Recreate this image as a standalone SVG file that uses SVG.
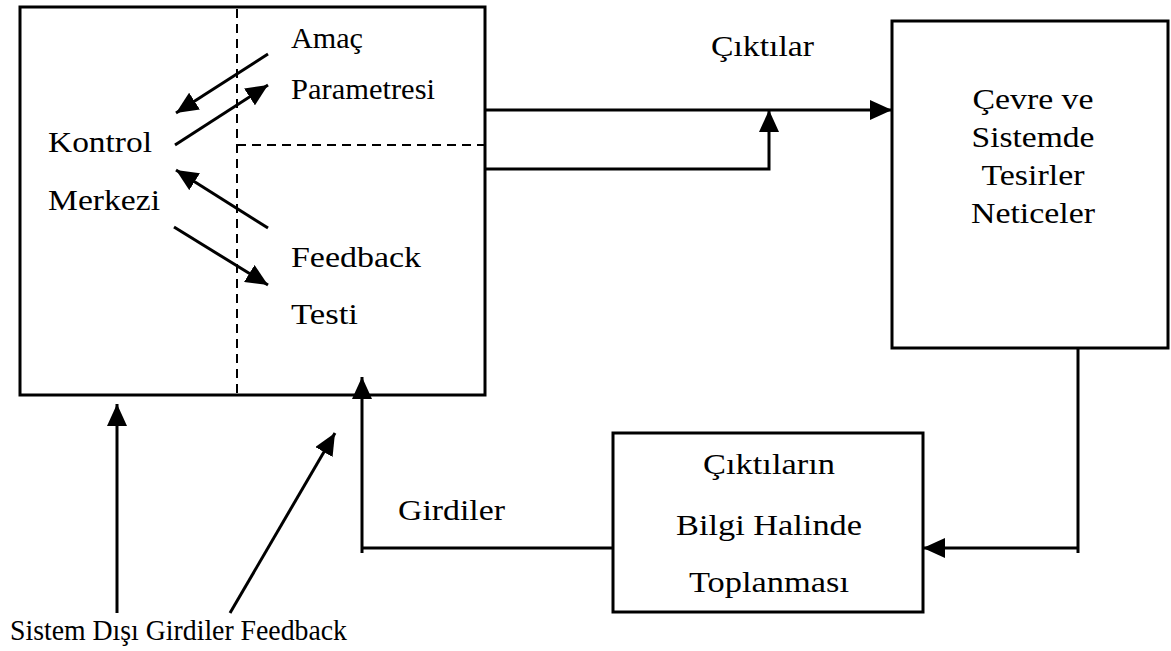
<svg xmlns="http://www.w3.org/2000/svg" width="1171" height="651" viewBox="0 0 1171 651" font-family="Liberation Serif, Times New Roman, serif">
<style>
text{font-family:'Liberation Serif','Times New Roman',Times,serif;fill:#000;font-size:30px}
.box{fill:#fff;stroke:#000;stroke-width:3}
.dash{fill:none;stroke:#000;stroke-width:2;stroke-dasharray:9 6}
.ln{fill:none;stroke:#000;stroke-width:3}
.ar{fill:none;stroke:#000;stroke-width:3;marker-end:url(#ah)}
.mid{text-anchor:middle}
</style>
<defs>
<marker id="ah" markerUnits="userSpaceOnUse" markerWidth="22" markerHeight="20" viewBox="0 0 22 20" refX="22" refY="10" orient="auto">
<path d="M0,0 L22,10 L0,20 z" fill="#000"/>
</marker>
</defs>
<g id="kontrol-sistemi">
<rect class="box" x="20" y="7" width="465" height="388"/>
<line class="dash" x1="237" y1="9" x2="237" y2="394"/>
<line class="dash" x1="237" y1="145" x2="484" y2="145"/>
<text x="48" y="152" textLength="104" lengthAdjust="spacingAndGlyphs">Kontrol</text>
<text x="48" y="210" textLength="112" lengthAdjust="spacingAndGlyphs">Merkezi</text>
<text x="291" y="48" textLength="72" lengthAdjust="spacingAndGlyphs">Amaç</text>
<text x="291" y="99" font-size="25" textLength="144" lengthAdjust="spacingAndGlyphs">Parametresi</text>
<text x="291" y="267" textLength="130" lengthAdjust="spacingAndGlyphs">Feedback</text>
<text x="291" y="324" textLength="67" lengthAdjust="spacingAndGlyphs">Testi</text>
</g>
<g id="cevre">
<rect class="box" x="892" y="21" width="276" height="327"/>
<text class="mid" x="1033" y="109" font-size="31" textLength="121" lengthAdjust="spacingAndGlyphs">Çevre ve</text>
<text class="mid" x="1033" y="147" font-size="31" textLength="123" lengthAdjust="spacingAndGlyphs">Sistemde</text>
<text class="mid" x="1033" y="185" font-size="31" textLength="103" lengthAdjust="spacingAndGlyphs">Tesirler</text>
<text class="mid" x="1033" y="223" font-size="31" textLength="124" lengthAdjust="spacingAndGlyphs">Neticeler</text>
</g>
<g id="bilgi">
<rect class="box" x="613" y="433" width="310" height="179"/>
<text class="mid" x="769" y="474" font-size="31" textLength="132" lengthAdjust="spacingAndGlyphs">Çıktıların</text>
<text class="mid" x="769" y="535" font-size="31" textLength="186" lengthAdjust="spacingAndGlyphs">Bilgi Halinde</text>
<text class="mid" x="769" y="592" font-size="31" textLength="160" lengthAdjust="spacingAndGlyphs">Toplanması</text>
</g>
<g id="connectors">
<line class="ar" x1="268" y1="54" x2="176" y2="113"/>
<line class="ar" x1="175" y1="145" x2="268" y2="85"/>
<line class="ar" x1="268" y1="228" x2="176" y2="170"/>
<line class="ar" x1="174" y1="227" x2="268" y2="285"/>
<line class="ar" x1="486" y1="110" x2="892" y2="110"/>
<polyline class="ar" points="486,169 769,169 769,110"/>
<line class="ln" x1="1078" y1="348" x2="1078" y2="553"/>
<line class="ar" x1="1078" y1="548" x2="923" y2="548"/>
<line class="ln" x1="613" y1="548" x2="362" y2="548"/>
<line class="ar" x1="362" y1="553" x2="362" y2="377"/>
<line class="ar" x1="117" y1="613" x2="117" y2="404"/>
<line class="ar" x1="230" y1="613" x2="335" y2="433"/>
</g>
<g id="labels">
<text x="711" y="56" font-size="28" textLength="103" lengthAdjust="spacingAndGlyphs">Çıktılar</text>
<text x="398" y="520" font-size="31" textLength="107" lengthAdjust="spacingAndGlyphs">Girdiler</text>
<text x="10" y="640" font-size="27.5" textLength="337" lengthAdjust="spacingAndGlyphs">Sistem Dışı Girdiler Feedback</text>
</g>
</svg>
